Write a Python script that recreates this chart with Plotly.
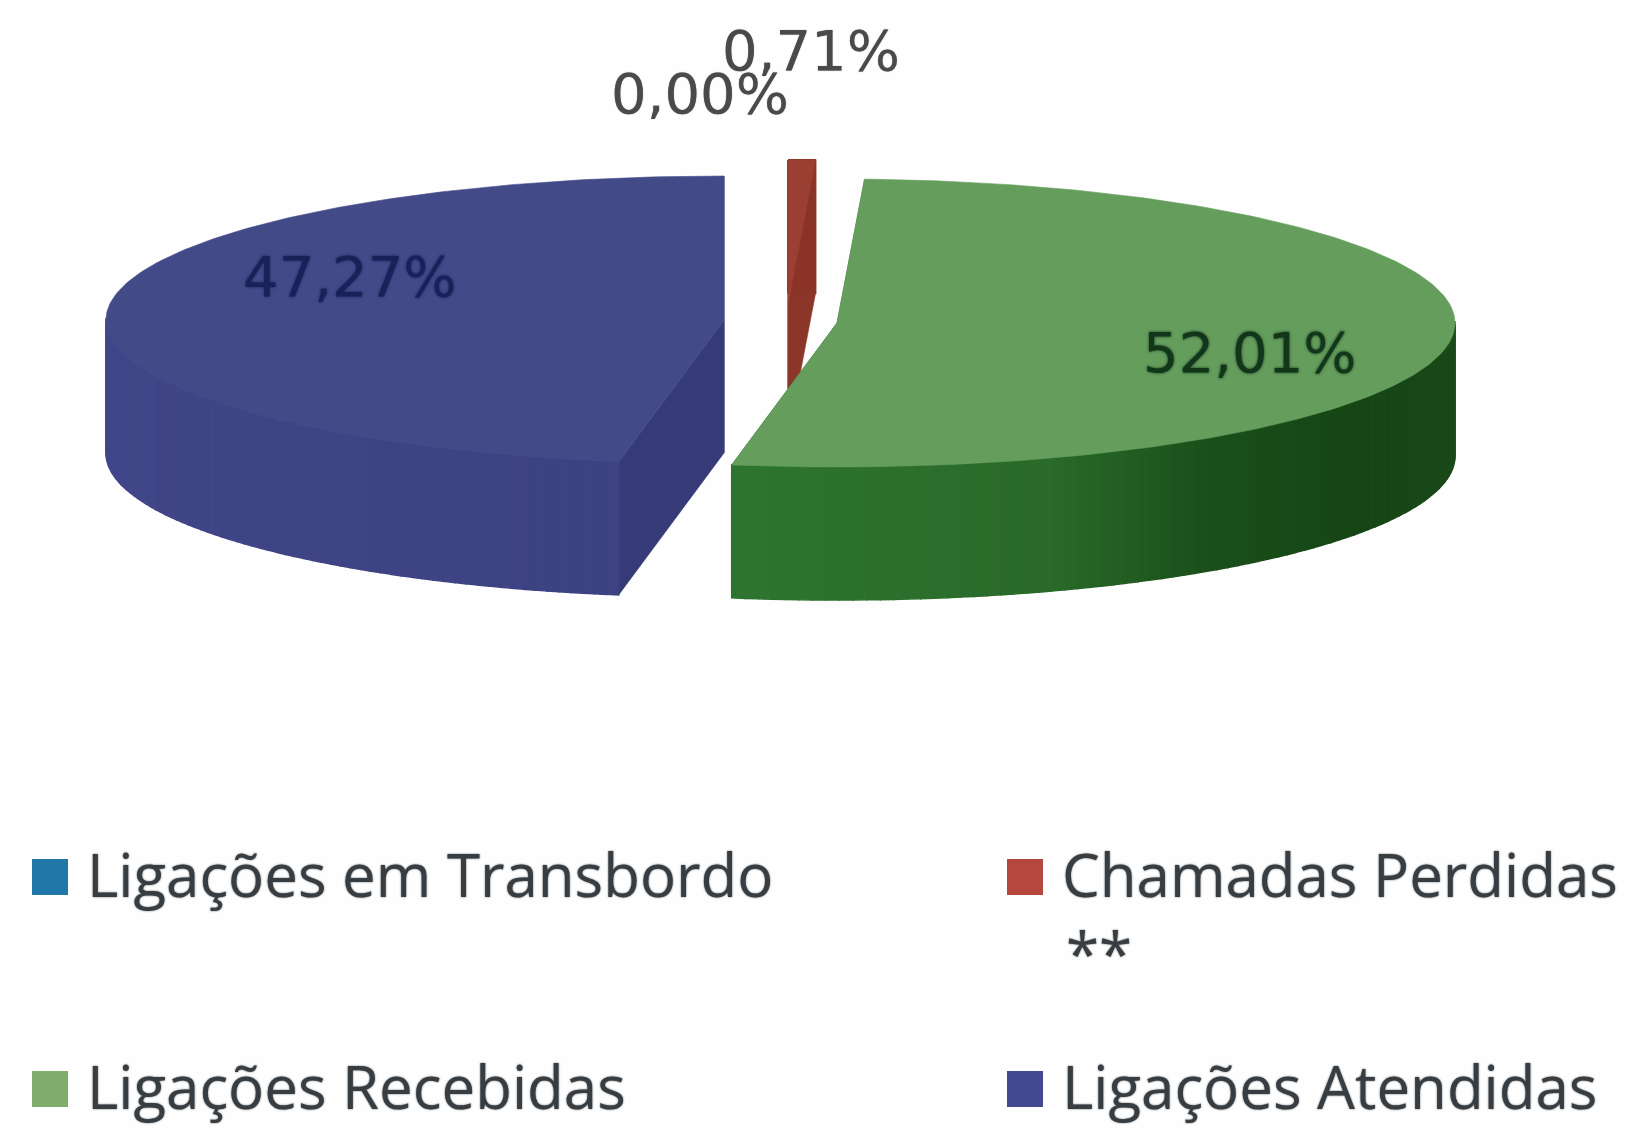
import numpy as np
import plotly.graph_objects as go

# ---- data ----
categories = ["Ligações em Transbordo", "Chamadas Perdidas", "Ligações Recebidas", "Ligações Atendidas"]
values = [0.00, 0.71, 52.01, 47.27]
value_labels = ["0,00%", "0,71%", "52,01%", "47,27%"]
legend_colors = ["#1f77a8", "#b5473f", "#7fae6c", "#45498f"]

# ---- pseudo-3D pie geometry ----
W, H = 1627, 1133
RX, RY, DEPTH = 618, 144, 133
centers = {1: (788, 304), 2: (837, 323), 3: (724, 320)}
top_col = {1: "#9c3f33", 2: "#659d5d", 3: "#434a88"}
inner_col = {1: "#8c3629", 2: "#2c6e2c", 3: "#363b78"}
side_stops = {
    1: [(0, "#8c3629"), (1, "#8c3629")],
    2: [(0, "#2e7430"), (0.3, "#2a6a2a"), (0.47, "#1a4f1a"), (0.65, "#164516"), (1, "#1c4a1a")],
    3: [(0, "#3d4282"), (1, "#41478a")],
}

total = sum(values)
edges = np.concatenate([[0], np.cumsum(values)]) / total * 2 * np.pi


def pt(c, a, dz=0.0):
    return c[0] + RX * np.sin(a), c[1] - RY * np.cos(a) + dz


def lerp(stops, t):
    for (t0, c0), (t1, c1) in zip(stops, stops[1:]):
        if t <= t1:
            f = (t - t0) / (t1 - t0)
            a = [int(c0[i:i + 2], 16) for i in (1, 3, 5)]
            b = [int(c1[i:i + 2], 16) for i in (1, 3, 5)]
            return "#%02x%02x%02x" % tuple(round(p + (q - p) * f) for p, q in zip(a, b))
    return stops[-1][1]


fig = go.Figure()


def poly(xs, ys, color, name, width=0.6):
    fig.add_trace(go.Scatter(
        x=list(xs) + [xs[0]], y=list(ys) + [ys[0]], mode="lines", fill="toself",
        fillcolor=color, line=dict(color=color, width=width), hoverinfo="text", text=name,
        showlegend=False))


def wedge(i):
    c = centers[i]
    a0, a1 = edges[i], edges[i + 1]
    name = categories[i]
    # inner faces
    for a in (a0, a1):
        x, y = pt(c, a)
        poly([c[0], x, x, c[0]], [c[1], y, y + DEPTH, c[1] + DEPTH], inner_col[i], name)
    # outer wall (only the half turned to the viewer is visible)
    vis = np.linspace(a0, a1, 150)
    vis = vis[(np.cos(vis) <= 0.02) | (i == 1)]
    for s0, s1 in zip(vis, vis[1:]):
        t = 1 - (s0 - vis[0]) / max(vis[-1] - vis[0], 1e-6)
        if i == 3:
            t = (s0 - vis[0]) / max(vis[-1] - vis[0], 1e-6)
        p = np.linspace(s0, s1, 3)
        xs, ys = pt(c, p)
        poly(list(xs) + list(xs[::-1]), list(ys) + list(ys[::-1] + DEPTH),
             lerp(side_stops[i], t), name, width=1.5)
    # top surface
    a = np.linspace(a0, a1, 200)
    xs, ys = pt(c, a)
    poly([c[0]] + list(xs), [c[1]] + list(ys), top_col[i], name)


for i in (1, 3, 2):
    wedge(i)

# ---- legend swatches ----
leg_x = [50, 1025, 50, 1025]
leg_y = [877, 877, 1089, 1089]
fig.add_trace(go.Scatter(
    x=leg_x, y=leg_y, mode="markers", showlegend=False, hovertext=categories, hoverinfo="text",
    marker=dict(symbol="square", size=36, color=legend_colors, line=dict(width=0))))

ann = []
LEG_FONT = dict(family="Open Sans", size=60, color="#383d42", shadow="0 0 2px #5a5f64")
for x, y, t in zip(leg_x, leg_y, categories):
    ann.append(dict(x=x + 35, y=y - 3, text=t, xanchor="left", yanchor="middle", showarrow=False, font=LEG_FONT))
ann.append(dict(x=1064, y=953, text="**", xanchor="left", yanchor="middle", showarrow=False, font=LEG_FONT))

lab_pos = [(700, 93), (811, 50), (1250, 352), (350, 276)]
lab_col = ["#4a4a4a", "#4a4a4a", "#12361a", "#1a2058"]
lab_shadow = ["0 0 1px #6a6a6a", "0 0 1px #6a6a6a", "0 0 3px #12361a", "0 0 3px #1a2058"]
for (x, y), t, col, sh in zip(lab_pos, value_labels, lab_col, lab_shadow):
    ann.append(dict(x=x, y=y, text=t, xanchor="center", yanchor="middle", showarrow=False,
                    font=dict(family="DejaVu Sans", size=56, color=col, shadow=sh)))

fig.update_layout(
    width=W, height=H, margin=dict(l=0, r=0, t=0, b=0), autosize=False,
    paper_bgcolor="#fefefe", plot_bgcolor="#fefefe", annotations=ann,
    xaxis=dict(range=[0, W], visible=False, fixedrange=True),
    yaxis=dict(range=[H, 0], visible=False, fixedrange=True),
)
fig.write_html("out.html", config=dict(displayModeBar=False),
               post_script="document.body.style.margin='0';document.documentElement.style.background='#fefefe';")
